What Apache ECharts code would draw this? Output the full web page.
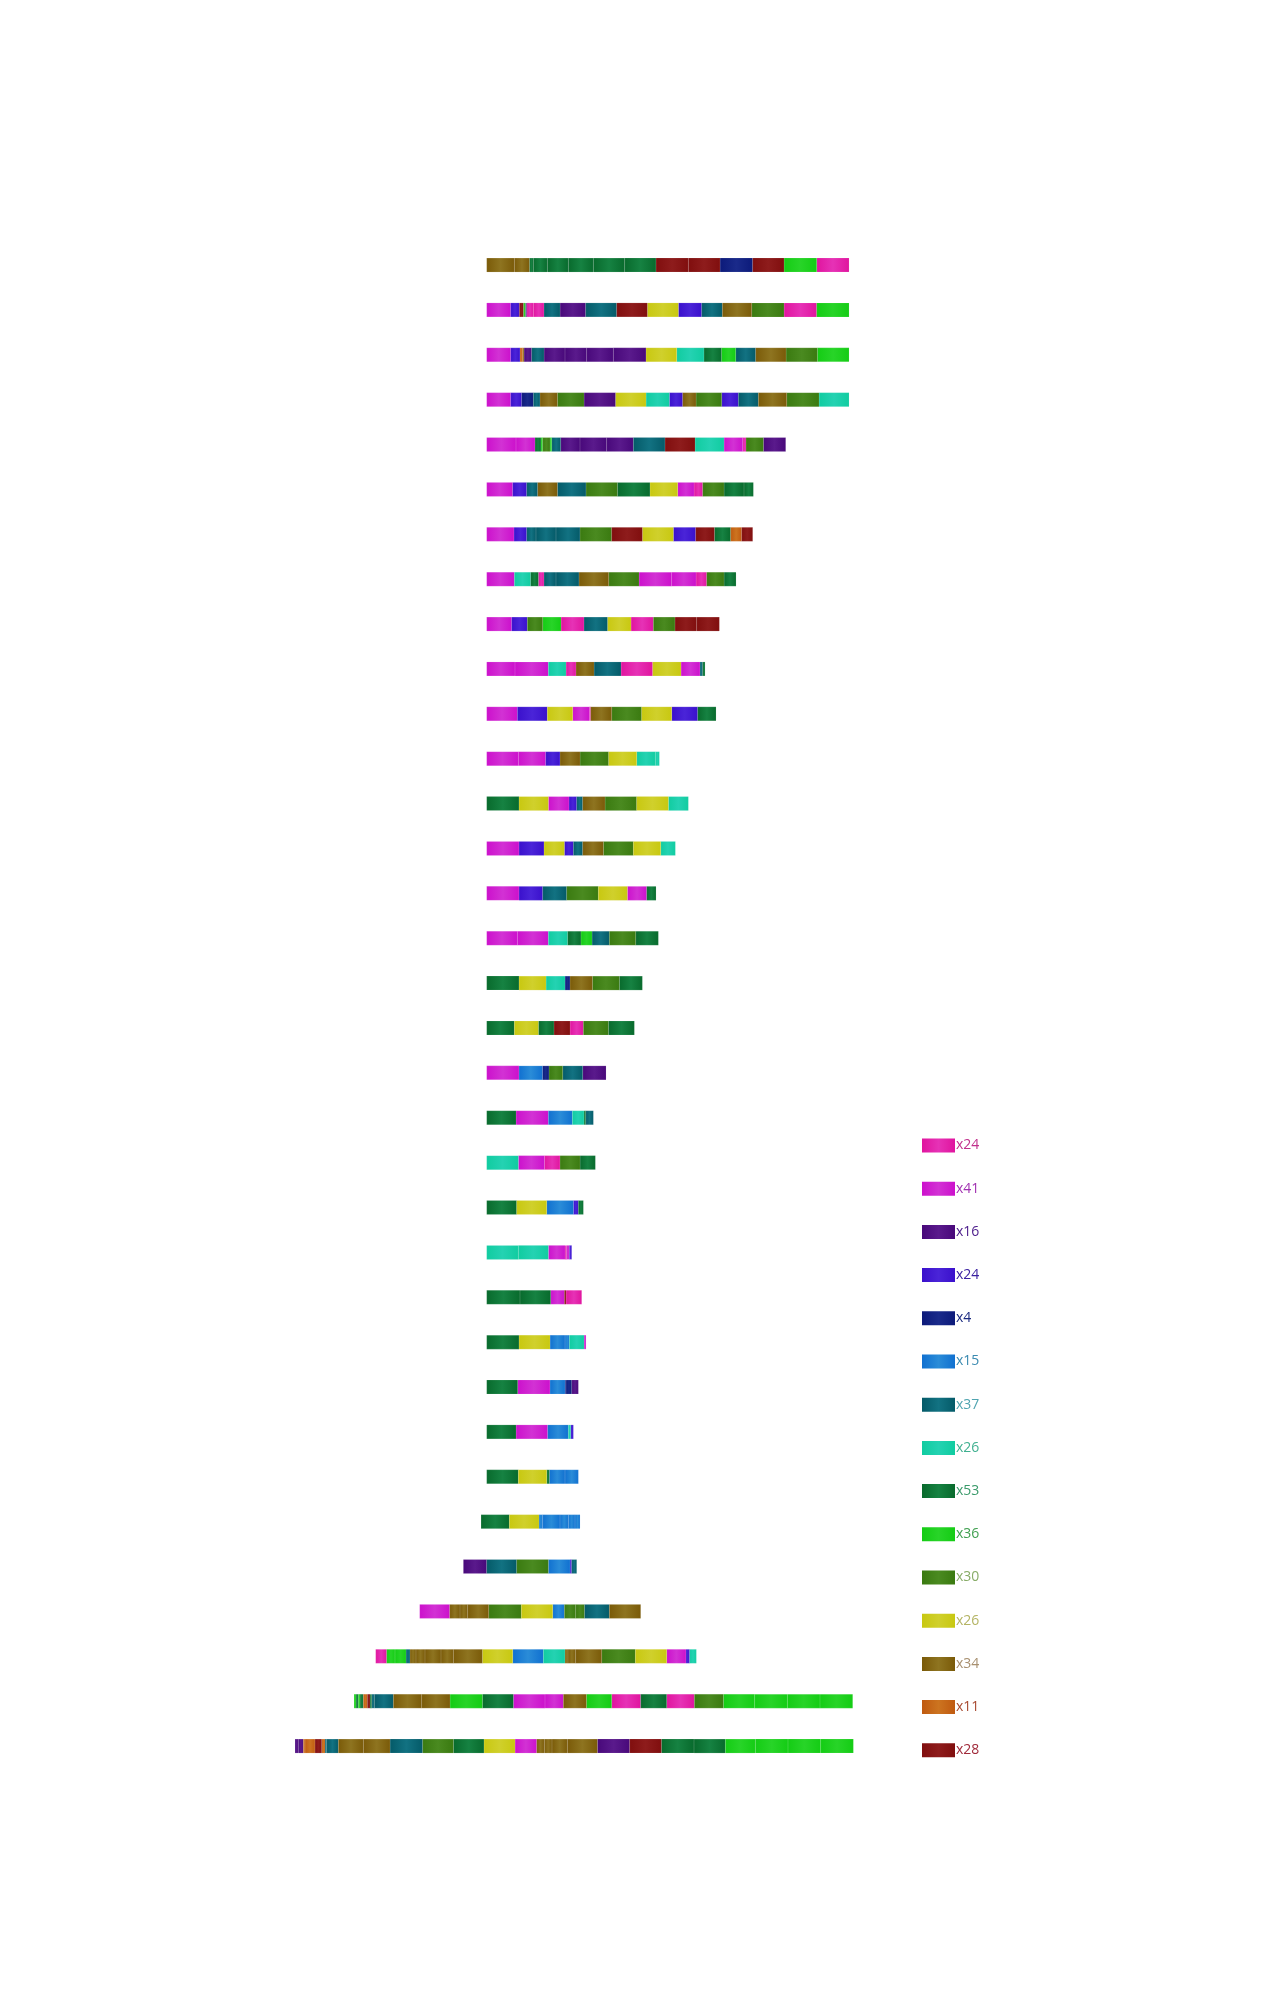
<!DOCTYPE html>
<html>
<head>
<meta charset="utf-8">
<title>Sequences</title>
<script src="https://cdn.jsdelivr.net/npm/echarts@6/dist/echarts.min.js"></script>
<style>
  html, body { margin: 0; padding: 0; background: #fff; }
  #chart { width: 1267px; height: 2000px; }
</style>
</head>
<body>
<div id="chart"></div>
<script>
// 15 kinds of block, counts as printed in the legend
var typeNames = ['T1', 'T2', 'T3', 'T4', 'T5', 'T6', 'T7', 'T8', 'T9', 'T10', 'T11', 'T12', 'T13', 'T14', 'T15'];
var typeCounts = [24, 41, 16, 24, 4, 15, 37, 26, 53, 36, 30, 26, 34, 11, 28];

// where each row begins on the time axis
var rowStarts = [0, 0, 0, 0, 0, 0, 0, 0, 0, 0, 0, 0, 0, 0, 0, 0, 0, 0, 0, 0,
  0, 0, 0, 0, 0, 0, 0, 0, -17, -70, -201, -333, -398, -575];

// each row: [type index, duration] in order
var rowSegments = [
  [[12,83],[12,45],[8,12],[8,42],[8,63],[8,75],[8,94],[8,94],[14,97],[14,95],[4,98],[14,94],[9,98],[0,97]],
  [[1,72],[3,26],[14,12],[9,6],[2,4],[0,20],[0,32],[6,48],[2,77],[6,93],[14,92],[11,93],[3,70],[6,62],[12,88],[10,97],[0,98],[9,97]],
  [[1,72],[3,28],[13,8],[12,4],[2,23],[6,37],[2,63],[2,65],[2,80],[2,98],[11,92],[7,82],[8,53],[9,42],[6,60],[12,91],[10,94],[9,95]],
  [[1,72],[3,33],[4,35],[6,20],[12,52],[10,80],[2,95],[11,91],[7,70],[3,40],[12,40],[10,77],[3,50],[6,60],[12,85],[10,97],[7,90]],
  [[1,88],[1,57],[8,18],[9,5],[10,22],[9,5],[6,27],[2,58],[2,80],[2,80],[6,95],[14,90],[7,87],[1,56],[0,10],[10,52],[2,67]],
  [[1,78],[3,42],[6,33],[12,59],[6,86],[10,94],[8,98],[11,83],[1,49],[0,26],[10,64],[8,60],[8,28]],
  [[1,82],[3,38],[6,28],[6,60],[6,72],[10,95],[14,92],[11,93],[3,67],[14,56],[8,49],[13,33],[14,33]],
  [[1,83],[7,49],[8,23],[0,17],[6,36],[6,69],[12,89],[10,91],[1,98],[1,73],[0,32],[10,52],[8,36]],
  [[1,75],[3,47],[10,46],[9,55],[0,69],[6,71],[11,70],[0,67],[10,65],[14,65],[14,68]],
  [[1,85],[1,100],[7,53],[0,30],[12,54],[6,81],[0,95],[11,85],[1,57],[6,8],[8,7]],
  [[1,92],[3,90],[11,76],[1,50],[0,4],[12,63],[10,90],[11,90],[3,78],[8,55]],
  [[1,95],[1,82],[3,43],[12,60],[10,86],[11,84],[7,56],[7,12]],
  [[8,97],[11,88],[1,62],[3,23],[6,18],[12,67],[10,95],[11,95],[7,60]],
  [[1,97],[3,75],[11,61],[3,27],[6,28],[12,62],[10,90],[11,82],[7,44]],
  [[1,97],[3,71],[6,72],[10,95],[11,87],[1,58],[8,28]],
  [[1,92],[1,93],[7,58],[8,40],[9,33],[6,52],[10,79],[8,68]],
  [[8,97],[11,81],[7,57],[4,15],[12,67],[10,81],[8,69]],
  [[8,83],[11,72],[8,47],[14,48],[0,40],[10,75],[8,78]],
  [[1,97],[5,70],[4,20],[10,41],[6,60],[2,70]],
  [[8,88],[1,97],[5,72],[7,35],[8,5],[6,23]],
  [[7,95],[1,78],[0,47],[10,60],[8,46]],
  [[8,90],[11,90],[5,80],[3,15],[8,15]],
  [[7,95],[7,90],[1,50],[0,5],[1,8],[3,7]],
  [[8,100],[8,92],[1,41],[14,5],[0,47]],
  [[8,97],[11,93],[5,45],[5,13],[7,44],[1,6]],
  [[8,93],[1,97],[5,45],[4,3],[4,17],[2,20]],
  [[8,88],[1,95],[5,62],[7,7],[3,8]],
  [[8,95],[11,85],[8,8],[5,47],[5,40]],
  [[8,85],[11,89],[5,11],[5,52],[5,25],[5,20],[5,15]],
  [[2,70],[6,90],[10,95],[5,65],[3,5],[6,15]],
  [[1,90],[12,31],[12,23],[12,63],[10,98],[11,94],[5,35],[10,34],[10,26],[6,75],[12,94]],
  [[0,33],[9,25],[9,33],[6,12],[12,18],[12,27],[12,48],[12,37],[12,87],[11,91],[5,92],[7,65],[12,9],[12,23],[12,78],[10,101],[11,94],[1,58],[3,11],[7,20]],
  [[9,6],[8,7],[9,5],[8,10],[13,12],[14,8],[8,5],[6,8],[6,57],[12,85],[12,85],[9,97],[8,93],[1,95],[1,55],[12,69],[9,76],[0,87],[8,78],[0,83],[10,87],[9,94],[9,98],[9,98],[9,98]],
  [[2,10],[2,15],[13,5],[13,30],[14,20],[13,10],[6,5],[6,35],[12,75],[12,80],[6,98],[10,92],[8,92],[11,93],[1,65],[12,23],[12,23],[12,46],[12,90],[2,97],[14,95],[8,98],[8,94],[9,90],[9,98],[9,98],[9,98]]
];

// colours: edge, highlight, legend text
var baseColors = ['#e0149e', '#cc10cc', '#48087a', '#3a10cc', '#0c1a7a', '#1070d0', '#045a68', '#10cca0',
  '#086a2c', '#14cc14', '#3a7a10', '#c8c810', '#7a5a08', '#c05a10', '#800e0e'];
var lightColors = ['#e632b6', '#d232d4', '#5a1a8c', '#4a24d8', '#1a2a8a', '#2a8cd8', '#127282', '#24d2b2',
  '#168242', '#28d428', '#4a8a20', '#d0d02c', '#8e7420', '#cc7420', '#8e1c1c'];
var labelColors = ['#c0308c', '#a030b0', '#4a1a8a', '#3a20a0', '#1a2a80', '#3a8ab0', '#50a4b0', '#40b090',
  '#3a9a6a', '#40a050', '#88ac68', '#b4b464', '#a89070', '#a84a30', '#a02a3a'];

function grad(i) {
  return new echarts.graphic.LinearGradient(0, 0, 1, 0, [
    { offset: 0, color: baseColors[i] },
    { offset: 0.5, color: lightColors[i] },
    { offset: 1, color: baseColors[i] }
  ]);
}

var rowNames = rowSegments.map(function (s, i) { return 'R' + (i + 1); });

var perType = typeNames.map(function () { return []; });
rowSegments.forEach(function (segs, r) {
  var x = rowStarts[r];
  segs.forEach(function (s) {
    perType[s[0]].push([x, x + s[1], r]);
    x += s[1];
  });
});

var barH = 14;
function renderItem(params, api) {
  var r = api.value(2);
  var a = api.coord([api.value(0), r]);
  var b = api.coord([api.value(1), r]);
  return {
    type: 'rect',
    shape: { x: a[0], y: a[1] - barH / 2, width: b[0] - a[0], height: barH },
    style: {
      fill: grad(params.seriesIndex),
      stroke: 'rgba(255,255,255,0.22)',
      lineWidth: 0.5
    }
  };
}

var chart = echarts.init(document.getElementById('chart'));
chart.setOption({
  animation: false,
  grid: { left: 286.7, right: 410.3, top: 242.6, bottom: 231.5 },
  xAxis: { type: 'value', min: -600, max: 1110, show: false },
  yAxis: { type: 'category', data: rowNames, inverse: true, show: false },
  legend: {
    orient: 'vertical',
    left: 917,
    top: 1133.5,
    itemWidth: 33,
    itemHeight: 14,
    itemGap: 29.2,
    icon: 'rect',
    selectedMode: false,
    formatter: function (name) { return 'x' + typeCounts[typeNames.indexOf(name)]; },
    textStyle: { fontSize: 14, fontFamily: 'Open Sans', padding: [0, 0, 0, -4] },
    data: typeNames.map(function (n, i) {
      return { name: n, textStyle: { color: labelColors[i] } };
    })
  },
  series: typeNames.map(function (n, i) {
    return {
      type: 'custom',
      name: n,
      renderItem: renderItem,
      itemStyle: { color: grad(i) },
      encode: { x: [0, 1], y: 2 },
      data: perType[i]
    };
  })
});
</script>
</body>
</html>
